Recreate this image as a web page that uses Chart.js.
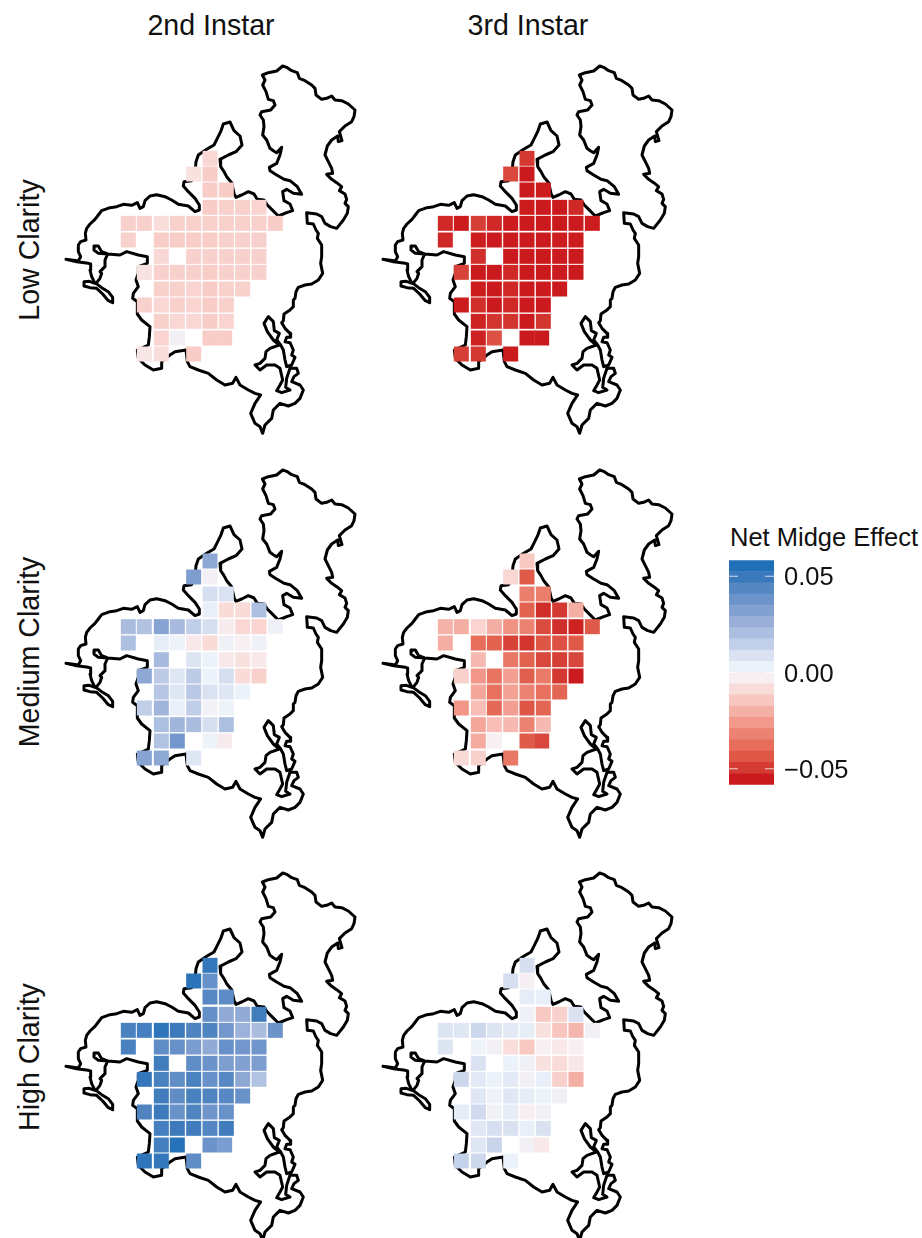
<!DOCTYPE html>
<html>
<head>
<meta charset="utf-8">
<title>Net Midge Effect</title>
<script src="https://cdn.jsdelivr.net/npm/chart.js@4/dist/chart.umd.min.js"></script>
<style>
  html, body { margin: 0; padding: 0; background: #fff; }
  body { position: relative; width: 922px; height: 1238px; overflow: hidden; font-family: "Liberation Sans", sans-serif; color: #111; }
  canvas { position: absolute; }
  .lbl { position: absolute; font-size: 28.6px; white-space: nowrap; line-height: 1; }
  .rot { transform: translate(-50%, -50%) rotate(-90deg); }
  .mid { transform: translate(-50%, -50%); }
</style>
</head>
<body>
<div class="lbl mid" style="left:211px;top:25px">2nd Instar</div>
<div class="lbl mid" style="left:528px;top:25px">3rd Instar</div>
<div class="lbl rot" style="left:29px;top:250px">Low Clarity</div>
<div class="lbl rot" style="left:29px;top:652px">Medium Clarity</div>
<div class="lbl rot" style="left:29px;top:1057px">High Clarity</div>
<div class="lbl" style="left:730px;top:525px;font-size:25.5px">Net Midge Effect</div>

<canvas id="lowSecond" width="300" height="380" style="left:60px;top:60px"></canvas>
<canvas id="lowThird" width="300" height="380" style="left:377px;top:60px"></canvas>
<canvas id="medSecond" width="300" height="380" style="left:60px;top:464px"></canvas>
<canvas id="medThird" width="300" height="380" style="left:377px;top:464px"></canvas>
<canvas id="highSecond" width="300" height="380" style="left:60px;top:867px"></canvas>
<canvas id="highThird" width="300" height="380" style="left:377px;top:867px"></canvas>
<canvas id="legendBar" width="193" height="275" style="left:729px;top:535px"></canvas>

<script>
// === Data ===
const _ = null;

// grid cell centres, in map units
const colEasting = [205, 253, 304, 352, 401, 450, 499, 548, 597, 646];
const rowNorthing = [295, 342, 390, 442, 490, 540, 589, 637, 687, 735, 784, 834, 882];
const rowNorthingMed = [291, 339, 390, 438, 488, 537, 587, 636, 684, 732, 782, 831, 882];

const lowSecond = [
  [_, _, _, _, _, -0.010, _, _, _, _],
  [_, _, _, _, -0.007, -0.013, _, _, _, _],
  [_, _, _, _, _, -0.013, -0.013, _, _, _],
  [_, _, _, _, _, -0.013, -0.012, -0.012, -0.011, _],
  [-0.012, -0.012, -0.008, -0.012, -0.012, -0.012, -0.012, -0.012, -0.012, -0.013],
  [-0.012, _, -0.013, -0.013, -0.013, -0.013, -0.012, -0.012, -0.012, _],
  [_, _, -0.010, _, -0.012, -0.012, -0.012, -0.012, -0.012, _],
  [_, -0.007, -0.012, -0.012, -0.012, -0.013, -0.012, -0.012, -0.012, _],
  [_, _, -0.012, -0.012, -0.011, -0.013, -0.012, -0.012, _, _],
  [_, -0.012, -0.010, -0.012, -0.011, -0.013, -0.012, _, _, _],
  [_, _, -0.012, -0.010, -0.010, -0.013, -0.011, _, _, _],
  [_, _, -0.011, -0.001, _, -0.013, -0.013, _, _, _],
  [_, -0.006, -0.008, _, -0.013, _, _, _, _, _]
];
const lowThird = [
  [_, _, _, _, _, -0.050, _, _, _, _],
  [_, _, _, _, -0.047, -0.056, _, _, _, _],
  [_, _, _, _, _, -0.056, -0.055, _, _, _],
  [_, _, _, _, _, -0.055, -0.056, -0.056, -0.053, _],
  [-0.053, -0.055, -0.049, -0.053, -0.055, -0.056, -0.056, -0.056, -0.056, -0.055],
  [-0.053, _, -0.055, -0.056, -0.056, -0.056, -0.056, -0.055, -0.055, _],
  [_, _, -0.052, _, -0.056, -0.056, -0.056, -0.056, -0.056, _],
  [_, -0.048, -0.056, -0.056, -0.053, -0.056, -0.056, -0.056, -0.056, _],
  [_, _, -0.055, -0.056, -0.053, -0.056, -0.056, -0.056, _, _],
  [_, -0.055, -0.052, -0.056, -0.053, -0.056, -0.056, _, _, _],
  [_, _, -0.054, -0.051, -0.051, -0.056, -0.051, _, _, _],
  [_, _, -0.054, -0.045, _, -0.056, -0.056, _, _, _],
  [_, -0.049, -0.050, _, -0.056, _, _, _, _, _]
];
const medSecond = [
  [_, _, _, _, _, 0.029, _, _, _, _],
  [_, _, _, _, 0.033, -0.001, _, _, _, _],
  [_, _, _, _, _, 0.010, 0.009, _, _, _],
  [_, _, _, _, _, 0.004, -0.009, -0.009, 0.020, _],
  [0.021, 0.019, 0.031, 0.022, 0.015, 0.010, -0.004, -0.010, -0.011, 0.001],
  [0.020, _, 0.005, 0.002, -0.005, -0.009, 0.001, -0.003, 0.001, _],
  [_, _, 0.022, _, 0.008, 0.003, -0.005, -0.007, -0.005, _],
  [_, 0.029, 0.016, 0.007, 0.016, 0.003, 0.010, -0.009, -0.012, _],
  [_, _, 0.018, 0.007, 0.017, 0.009, 0.007, 0.003, _, _],
  [_, 0.015, 0.024, 0.004, 0.015, 0.000, 0.002, _, _, _],
  [_, _, 0.020, 0.024, 0.021, 0.010, 0.020, _, _, _],
  [_, _, 0.019, 0.036, _, 0.002, -0.004, _, _, _],
  [_, 0.031, 0.029, _, 0.007, _, _, _, _, _]
];
const medThird = [
  [_, _, _, _, _, -0.014, _, _, _, _],
  [_, _, _, _, -0.010, -0.043, _, _, _, _],
  [_, _, _, _, _, -0.033, -0.033, _, _, _],
  [_, _, _, _, _, -0.041, -0.052, -0.050, -0.021, _],
  [-0.020, -0.021, -0.011, -0.021, -0.028, -0.032, -0.046, -0.052, -0.054, -0.043],
  [-0.021, _, -0.038, -0.041, -0.048, -0.051, -0.044, -0.045, -0.043, _],
  [_, _, -0.018, _, -0.035, -0.041, -0.047, -0.049, -0.047, _],
  [_, -0.012, -0.027, -0.036, -0.025, -0.042, -0.034, -0.050, -0.056, _],
  [_, _, -0.023, -0.037, -0.024, -0.032, -0.037, -0.040, _, _],
  [_, -0.027, -0.017, -0.039, -0.025, -0.044, -0.040, _, _, _],
  [_, _, -0.023, -0.017, -0.018, -0.032, -0.018, _, _, _],
  [_, _, -0.022, -0.003, _, -0.043, -0.047, _, _, _],
  [_, -0.009, -0.012, _, -0.035, _, _, _, _, _]
];
const highSecond = [
  [_, _, _, _, _, 0.051, _, _, _, _],
  [_, _, _, _, 0.053, 0.039, _, _, _, _],
  [_, _, _, _, _, 0.043, 0.042, _, _, _],
  [_, _, _, _, _, 0.040, 0.028, 0.028, 0.048, _],
  [0.046, 0.047, 0.052, 0.049, 0.045, 0.045, 0.036, 0.025, 0.021, 0.038],
  [0.046, _, 0.041, 0.039, 0.034, 0.028, 0.039, 0.036, 0.037, _],
  [_, _, 0.048, _, 0.041, 0.038, 0.033, 0.032, 0.033, _],
  [_, 0.051, 0.046, 0.041, 0.046, 0.039, 0.043, 0.029, 0.019, _],
  [_, _, 0.048, 0.041, 0.046, 0.045, 0.043, 0.039, _, _],
  [_, 0.045, 0.049, 0.039, 0.045, 0.037, 0.039, _, _, _],
  [_, _, 0.047, 0.049, 0.048, 0.044, 0.048, _, _, _],
  [_, _, 0.047, 0.054, _, 0.038, 0.034, _, _, _],
  [_, 0.052, 0.051, _, 0.041, _, _, _, _, _]
];
const highThird = [
  [_, _, _, _, _, 0.010, _, _, _, _],
  [_, _, _, _, 0.010, -0.002, _, _, _, _],
  [_, _, _, _, _, 0.005, 0.004, _, _, _],
  [_, _, _, _, _, 0.001, -0.014, -0.012, 0.009, _],
  [0.008, 0.007, 0.012, 0.008, 0.006, 0.005, -0.007, -0.015, -0.019, -0.001],
  [0.008, _, 0.002, -0.001, -0.008, -0.014, -0.003, -0.005, -0.003, _],
  [_, _, 0.009, _, 0.003, 0.001, -0.007, -0.009, -0.006, _],
  [_, 0.012, 0.006, 0.003, 0.006, -0.001, 0.004, -0.012, -0.021, _],
  [_, _, 0.007, 0.002, 0.007, 0.005, 0.003, 0.001, _, _],
  [_, 0.005, 0.011, 0.001, 0.005, -0.003, 0.001, _, _, _],
  [_, _, 0.007, 0.010, 0.009, 0.004, 0.009, _, _, _],
  [_, _, 0.007, 0.013, _, -0.001, -0.005, _, _, _],
  [_, 0.014, 0.012, _, 0.003, _, _, _, _, _]
];

// colour bar, bottom to top
const bandColors = ['#cb1a1d', '#d43c33', '#de5747', '#e66e5b', '#ec8271', '#f2998c', '#f5b0a6', '#f8c7c1', '#f9dcd9', '#f7eff2',
                    '#ecf2fa', '#dbe3f2', '#c2cfe9', '#adbfe0', '#99afd8', '#82a0d0', '#6c93ca', '#5587c3', '#3a79bb', '#2070b7'];
const legendLimit = 0.0583;
const tickValues = [-0.05, 0, 0.05];
const tickLabels = ['\u22120.05', '0.00', '0.05'];

// shoreline in map units
const shoreline = [
  [18,598],[35,600],[55,603],[62,590],[55,575],[55,555],[62,545],[78,540],[76,520],[80,505],[90,492],[105,478],[115,465],[125,452],
  [150,443],[170,440],[190,433],[215,436],[232,428],[240,445],[250,440],[255,422],[270,408],[290,404],[315,410],[335,420],[355,433],
  [385,438],[405,455],[418,450],[418,435],[405,415],[385,395],[370,378],[372,365],[395,362],[405,340],[408,305],[415,285],[440,268],
  [462,255],[472,235],[482,215],[490,192],[510,186],[522,212],[540,228],[546,255],[528,275],[505,285],[480,298],[482,320],[492,335],
  [500,350],[515,368],[522,400],[528,412],[545,405],[565,395],[582,402],[592,418],[612,420],[622,435],[635,448],[655,468],[680,458],
  [698,452],[690,432],[672,422],[668,395],[680,388],[700,400],[725,403],[712,380],[690,362],[672,358],[650,345],[630,332],[628,322],
  [650,310],[660,285],[665,262],[650,278],[640,272],[630,265],[620,240],[608,225],[612,200],[610,180],[600,165],[605,155],[632,150],
  [645,135],[640,122],[625,118],[618,95],[608,75],[615,60],[607,45],[625,38],[650,33],[668,18],[680,22],[695,32],[712,38],[718,55],
  [735,62],[755,75],[765,85],[768,105],[785,118],[800,115],[815,108],[825,120],[845,122],[865,132],[885,150],[882,170],[875,185],
  [855,198],[838,215],[846,242],[835,245],[833,228],[815,240],[802,258],[795,285],[805,305],[815,325],[818,340],[800,343],[815,358],
  [830,368],[845,380],[838,392],[855,402],[860,418],[855,430],[865,440],[862,460],[850,480],[830,505],[812,500],[795,490],[785,470],
  [770,462],[740,458],[742,490],[760,492],[768,510],[775,520],[772,535],[785,555],[785,590],[782,610],[788,640],[775,660],[755,672],
  [735,675],[715,682],[708,695],[705,715],[700,720],[700,740],
  [690,750],[672,762],[670,782],[665,788],[675,805],[690,820],[692,832],[680,832],[675,845],[690,848],[700,870],[695,885],[705,892],
  [695,915],[680,920],[675,900],[670,870],[662,855],[650,840],[658,820],[643,812],[640,785],[625,770],[612,790],[622,815],[640,840],
  [658,855],[630,865],[618,875],[615,895],[600,910],[585,915],[600,930],[620,915],[645,915],[660,925],[668,960],[660,975],[650,992],
  [665,998],[690,990],[677,982],[680,955],[690,925],[710,925],[715,940],[702,950],[695,965],[720,975],[730,990],[720,1015],[705,1030],
  [685,1038],[660,1030],[640,1050],[635,1075],[615,1095],[608,1120],[600,1100],[585,1090],[572,1060],[585,1030],[595,1015],[602,1005],
  [585,1000],[565,990],[540,975],[528,952],[518,970],[495,975],[470,960],[445,940],[415,930],[390,920],[382,905],[378,870],[345,875],
  [330,885],[305,905],[305,925],[280,930],[255,915],[235,895],[232,870],[265,855],[268,830],[270,800],[245,780],[232,762],[232,725],
  [218,715],[220,700],[235,680],[228,660],[235,640],[235,620],[262,610],[262,590],[235,585],[200,575],[180,585],[143,582],[125,575],
  [115,558],[103,558],[102,570],[115,580],[143,582],[135,600],[135,620],[120,635],[125,640],[120,655],[108,670],[125,683],[145,695],
  [158,712],[158,728],[145,722],[128,702],[110,685],[90,683],[72,678],[72,665],[88,664],[105,670],[95,650],[90,630],[92,612],[85,610],
  [50,605],[18,598]
];

// === Colours ===
function hexToRgb(hex) {
  return [1, 3, 5].map(i => parseInt(hex.substr(i, 2), 16));
}
function colorFor(v) {
  const t = Math.min(19, Math.max(0, (v + legendLimit) / (2 * legendLimit) * 20 - 0.5));
  const i = Math.min(18, Math.floor(t));
  const a = hexToRgb(bandColors[i]), b = hexToRgb(bandColors[i + 1]);
  const c = a.map((n, k) => Math.round(n + (b[k] - n) * (t - i)));
  return 'rgb(' + c.join(',') + ')';
}

// === Panels ===
function drawPanel(id, values, rows) {
  const cells = [], colors = [];
  values.forEach((row, r) => row.forEach((v, c) => {
    if (v === null) return;
    // the last full row has its two right cells touching
    const x = (r === 11 && c === 6) ? 494 : colEasting[c];
    cells.push({ x: x, y: rows[r] });
    colors.push(colorFor(v));
  }));
  new Chart(document.getElementById(id).getContext('2d'), {
    type: 'scatter',
    data: {
      datasets: [
        { data: cells, pointStyle: 'rect', pointRadius: 10.6, pointBorderWidth: 0, pointBackgroundColor: colors, showLine: false, order: 1 },
        { data: shoreline.map(p => ({ x: p[0], y: p[1] })), showLine: true, pointRadius: 0, borderColor: '#000', borderWidth: 3,
          borderJoinStyle: 'round', borderCapStyle: 'round', tension: 0, order: 2 }
      ]
    },
    options: {
      responsive: false,
      animation: false,
      layout: { padding: 0, autoPadding: false },
      plugins: { legend: { display: false }, tooltip: { enabled: false } },
      scales: {
        x: { type: 'linear', display: false, min: 0, max: 900 },
        y: { type: 'linear', display: false, min: 0, max: 1140, reverse: true }
      }
    }
  });
}

drawPanel('lowSecond', lowSecond, rowNorthing);
drawPanel('lowThird', lowThird, rowNorthing);
drawPanel('medSecond', medSecond, rowNorthingMed);
drawPanel('medThird', medThird, rowNorthingMed);
drawPanel('highSecond', highSecond, rowNorthing);
drawPanel('highThird', highThird, rowNorthing);

// === Colour bar ===
const bandStep = 2 * legendLimit / bandColors.length;
const whiteTicks = {
  id: 'whiteTicks',
  afterDatasetsDraw(chart) {
    const { ctx, chartArea, scales } = chart;
    ctx.save();
    ctx.strokeStyle = 'rgba(255,255,255,0.75)';
    ctx.lineWidth = 1.2;
    tickValues.forEach(v => {
      const y = scales.y.getPixelForValue(v);
      ctx.beginPath();
      ctx.moveTo(chartArea.left, y);
      ctx.lineTo(chartArea.left + 9, y);
      ctx.moveTo(chartArea.right - 9, y);
      ctx.lineTo(chartArea.right, y);
      ctx.stroke();
    });
    ctx.restore();
  }
};

new Chart(document.getElementById('legendBar').getContext('2d'), {
  type: 'bar',
  data: {
    labels: ['Net Midge Effect'],
    datasets: bandColors.map((color, i) => ({
      data: [[-legendLimit + i * bandStep, -legendLimit + (i + 1) * bandStep]],
      backgroundColor: color,
      borderWidth: 0,
      barPercentage: 1,
      categoryPercentage: 1
    }))
  },
  options: {
    responsive: false,
    animation: false,
    layout: { padding: 0, autoPadding: false },
    plugins: { legend: { display: false }, tooltip: { enabled: false } },
    scales: {
      x: { display: false, stacked: true },
      y: {
        position: 'right',
        min: -legendLimit,
        max: legendLimit,
        afterBuildTicks: axis => { axis.ticks = tickValues.map(v => ({ value: v })); },
        afterFit: axis => { axis.width = 148; },
        grid: { display: false, drawTicks: false },
        border: { display: false },
        ticks: {
          padding: 10,
          labelOffset: 2,
          color: '#111',
          font: { family: '"Liberation Sans"', size: 25.5 },
          callback: v => tickLabels[tickValues.indexOf(v)]
        }
      }
    }
  },
  plugins: [whiteTicks]
});
</script>
</body>
</html>
